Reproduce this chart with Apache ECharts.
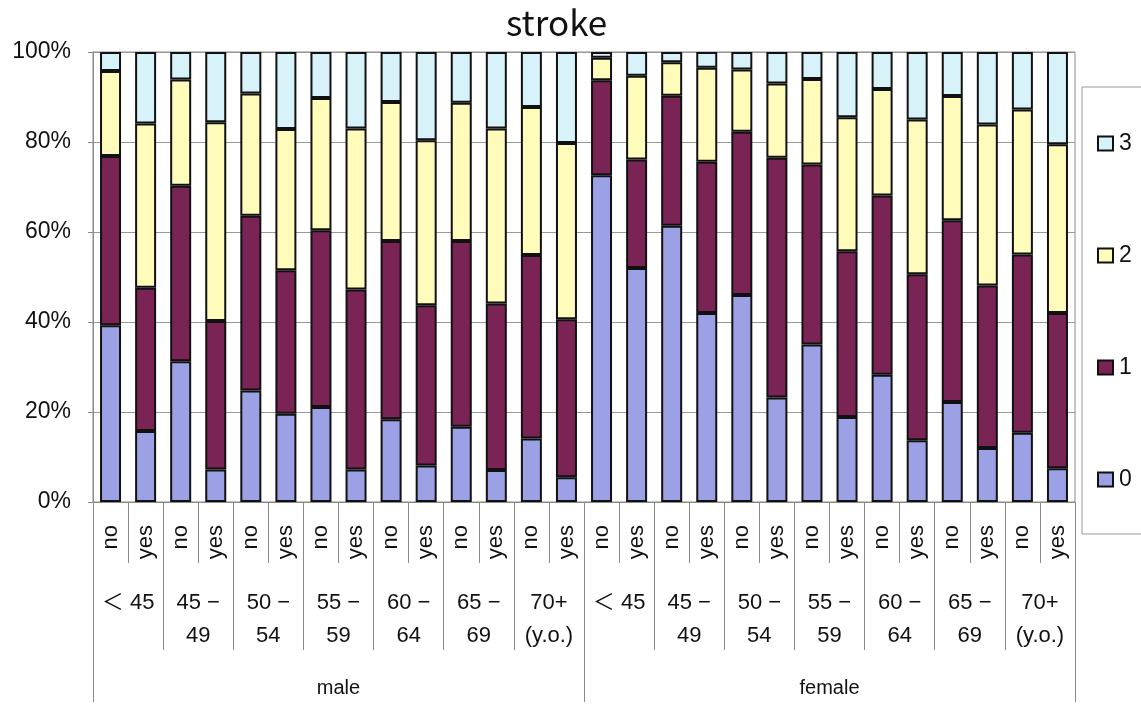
<!DOCTYPE html>
<html>
<head>
<meta charset="utf-8">
<script src="https://cdn.jsdelivr.net/npm/echarts@6/dist/echarts.min.js"></script>
<style>
html,body{margin:0;padding:0;background:#fff;}
#chart{width:1141px;height:708px;}
</style>
</head>
<body>
<div id="chart"></div>
<script>
const categories = ['no','yes','no','yes','no','yes','no','yes','no','yes','no','yes','no','yes',
                    'no','yes','no','yes','no','yes','no','yes','no','yes','no','yes','no','yes'];
const ageGroups = ['＜ 45','45 −\n49','50 −\n54','55 −\n59','60 −\n64','65 −\n69','70+\n(y.o.)',
                   '＜ 45','45 −\n49','50 −\n54','55 −\n59','60 −\n64','65 −\n69','70+\n(y.o.)'];
const sexes = ['male','female'];
const seriesNames = ['0','1','2','3'];
const legendOrder = ['3','2','1','0'];
const yTicks = [0,20,40,60,80,100];

const s0 = [39.3,15.8,31.3,7.2,24.8,19.6,21.1,7.2,18.4,8.1,16.7,7.1,14.1,5.5,
            72.6,52.0,61.4,42.0,46.0,23.2,35.0,18.9,28.3,13.7,22.2,12.0,15.4,7.5];
const s1 = [37.6,31.8,39.0,33.0,38.8,31.9,39.3,40.0,39.6,35.6,41.3,37.0,40.8,35.1,
            21.1,24.1,28.9,33.6,36.3,53.3,40.0,36.8,39.8,36.9,40.4,36.1,39.6,34.5];
const s2 = [18.9,36.5,23.6,44.2,27.2,31.4,29.4,35.8,30.9,36.7,30.7,38.9,32.9,39.2,
            5.0,18.6,7.4,20.9,13.8,16.5,19.0,29.8,23.7,34.4,27.6,35.8,32.2,37.5];
const s3 = [4.2,15.9,6.1,15.6,9.2,17.1,10.2,17.0,11.1,19.6,11.3,17.0,12.2,20.2,
            1.3,5.3,2.3,3.5,3.9,7.0,6.0,14.5,8.2,15.0,9.8,16.1,12.8,20.5];

const colors = ['#9ca0e4','#7a2355','#fffbbb','#d7f2f9'];
const values = [s0,s1,s2,s3];
const FONT = '"Liberation Sans", "Noto Sans CJK JP", sans-serif';
const SEP = '#8a8a8a';

const chart = echarts.init(document.getElementById('chart'), null, {renderer:'canvas'});
chart.setOption({
  animation: false,
  backgroundColor: '#fff',
  title: {
    text: 'stroke',
    left: 506, top: 5, padding: 0,
    textStyle: {fontFamily: '"Noto Sans CJK JP", sans-serif', fontSize: 35, fontWeight: 'normal', color: '#111'}
  },
  legend: {
    data: legendOrder,
    orient: 'vertical',
    left: 1082, top: 87,
    padding: [45, 10, 43, 15],
    itemGap: 89,
    itemWidth: 15, itemHeight: 14,
    icon: 'rect',
    borderColor: '#999', borderWidth: 1,
    itemStyle: {borderColor: '#111', borderWidth: 2},
    textStyle: {fontFamily: FONT, fontSize: 23, color: '#111', padding: [0,0,0,1]}
  },
  grid: {
    left: 93, right: 66, top: 52, bottom: 206,
    show: true, borderColor: SEP, borderWidth: 1
  },
  xAxis: [
    {
      type: 'category', data: categories, position: 'bottom',
      axisLine: {show: true, lineStyle: {color: SEP}},
      axisTick: {show: true, interval: 0, length: 61, lineStyle: {color: SEP}},
      axisLabel: {interval: 0, rotate: 90, margin: 23, fontFamily: FONT, fontSize: 22, color: '#111'}
    },
    {
      type: 'category', data: ageGroups, position: 'bottom',
      axisLine: {show: false},
      axisTick: {show: true, interval: 0, length: 148, lineStyle: {color: SEP}},
      axisLabel: {interval: 0, margin: 84, fontFamily: FONT, fontSize: 22, lineHeight: 33, color: '#111', align: 'center'}
    },
    {
      type: 'category', data: sexes, position: 'bottom',
      axisLine: {show: false},
      axisTick: {show: true, interval: 0, length: 200, lineStyle: {color: SEP}},
      axisLabel: {interval: 0, margin: 176, fontFamily: FONT, fontSize: 20, color: '#111'}
    }
  ],
  yAxis: {
    type: 'value', min: yTicks[0], max: yTicks[yTicks.length-1], interval: 20,
    axisLine: {show: true, lineStyle: {color: SEP}},
    axisTick: {show: true, length: 5, lineStyle: {color: SEP}},
    axisLabel: {formatter: '{value}%', margin: 22, fontFamily: FONT, fontSize: 23, color: '#111'},
    splitLine: {show: true, lineStyle: {color: '#999', width: 1}}
  },
  series: seriesNames.map((n, i) => ({
    name: n, type: 'bar', stack: 'total', xAxisIndex: 0,
    data: values[i],
    barWidth: 21,
    itemStyle: {color: colors[i], borderColor: '#111', borderWidth: 2}
  }))
});
</script>
</body>
</html>
